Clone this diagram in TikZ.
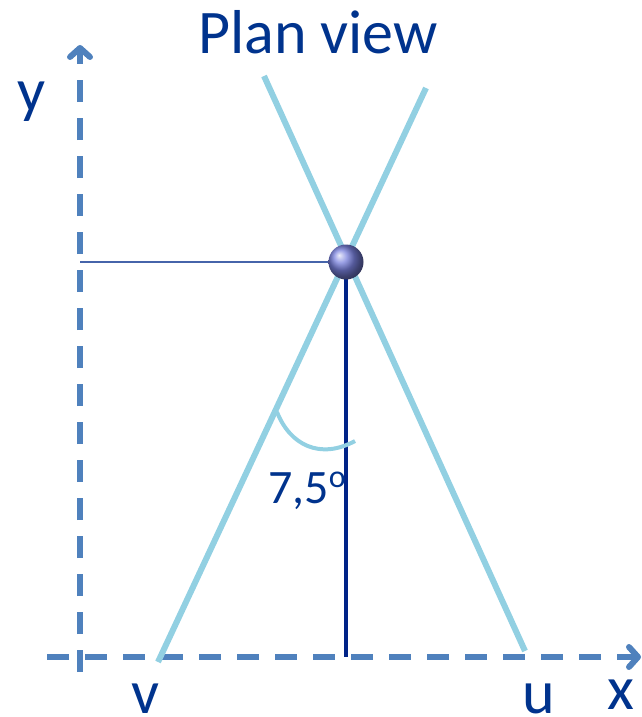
\documentclass[tikz,border=0pt]{standalone}
\usepackage{fontspec}
\setmainfont{Carlito}
\usetikzlibrary{arrows.meta}
\definecolor{titleblue}{RGB}{0,51,141}
\definecolor{axisblue}{RGB}{79,129,189}
\definecolor{wireblue}{RGB}{146,208,226}
\definecolor{poleblue}{RGB}{0,35,135}
\definecolor{guideblue}{RGB}{70,100,170}
\definecolor{ballblue}{RGB}{120,128,220}

\begin{document}
\begin{tikzpicture}[x=1pt,y=-1pt,
  axis/.style={axisblue,line width=6pt,dash pattern=on 22pt off 16pt},
  axistip/.style={-{Straight Barb[round,length=9pt,width=20pt]}},
  wire/.style={wireblue,line width=6pt},
  lbl/.style={text=titleblue,inner sep=0pt,anchor=base west,font=\fontsize{62}{70}\selectfont}]
\useasboundingbox (0,0) rectangle (642,717);

\coordinate (ybot) at (80,672);
\coordinate (ytop) at (80,45);
\coordinate (xleft) at (47,657);
\coordinate (xright) at (641,657);
\draw[axis,axistip] (ybot) -- (ytop);
\draw[axis,axistip] (xleft) -- (xright);

\coordinate (vfoot) at (158,662);
\coordinate (vtop) at (426,88);
\coordinate (utop) at (264,76);
\coordinate (ufoot) at (525,651);
\draw[wire] (vfoot) -- (vtop);
\draw[wire] (utop) -- (ufoot);

\coordinate (ball) at (346,262);
\coordinate (ymark) at (80,262);
\coordinate (foot) at (346,657);
\draw[guideblue,line width=1.6pt] (ymark) -- (ball);
\draw[poleblue,line width=4pt] (ball) -- (foot);

\draw[wireblue,line width=4pt] (277,412) .. controls (290,445) and (320,460) .. (355,441);

\node[circle,minimum size=35pt,inner sep=0pt,shading=ball,ball color=ballblue] (bob) at (ball) {};

\node[lbl] (title) at (198,53) {Plan view};
\node[lbl] (ylab) at (17,111) {y};
\node[lbl] (xlab) at (607,709) {x};
\node[lbl] (vlab) at (131,713) {v};
\node[lbl] (ulab) at (522,713) {u};
\node[lbl,font=\fontsize{48}{56}\selectfont] (angle) at (268,503)
  {7,5\raisebox{16pt}{\fontsize{32}{32}\selectfont o}};
\end{tikzpicture}
\end{document}
